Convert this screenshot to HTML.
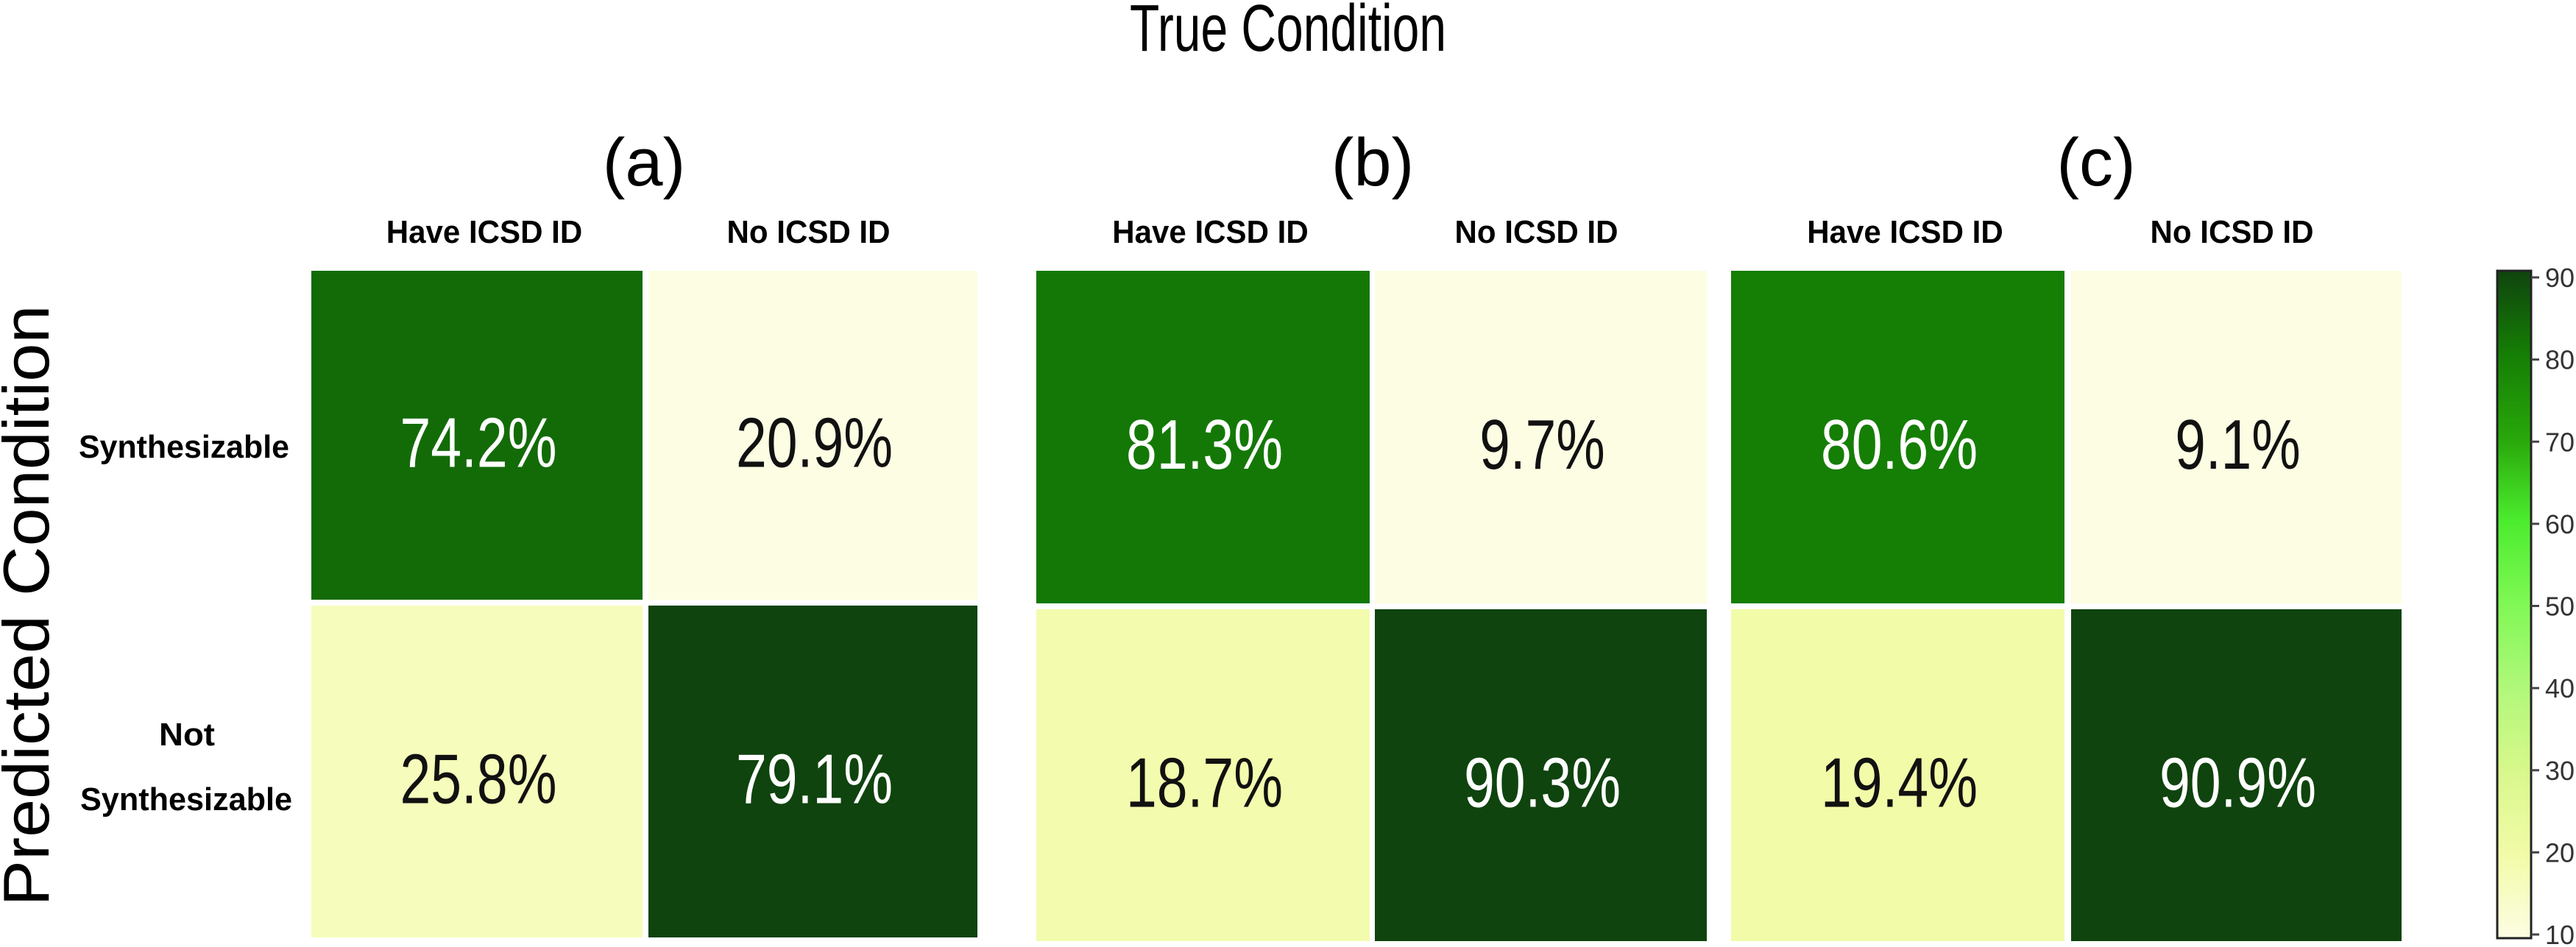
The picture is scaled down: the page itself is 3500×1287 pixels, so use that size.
<!DOCTYPE html>
<html><head><meta charset="utf-8"><style>html,body{margin:0;padding:0;background:#fff}svg{display:block}</style></head>
<body>
<svg id="chart" xmlns="http://www.w3.org/2000/svg" width="3500" height="1287" viewBox="0 0 3500 1287" font-family="Liberation Sans, sans-serif">
<defs>
<linearGradient id="cbgrad" x1="0" y1="1" x2="0" y2="0">
<stop offset="0" stop-color="#fdfde3"/><stop offset="0.125" stop-color="#f2fba8"/><stop offset="0.25" stop-color="#d8f88c"/><stop offset="0.375" stop-color="#b0f87a"/><stop offset="0.5" stop-color="#80f855"/><stop offset="0.625" stop-color="#4cec2e"/><stop offset="0.75" stop-color="#28a60a"/><stop offset="0.875" stop-color="#157e05"/><stop offset="1" stop-color="#0f440e"/>
</linearGradient>
</defs>
<text x="1750" y="69" font-size="90" text-anchor="middle" textLength="430" lengthAdjust="spacingAndGlyphs" fill="#000">True Condition</text>
<text transform="translate(66,823) rotate(-90)" font-size="88" text-anchor="middle" textLength="817" lengthAdjust="spacingAndGlyphs" fill="#000">Predicted Condition</text>
<text x="250" y="622" font-size="44" font-weight="bold" text-anchor="middle" textLength="286" lengthAdjust="spacingAndGlyphs">Synthesizable</text>
<text x="254" y="1013" font-size="44" font-weight="bold" text-anchor="middle" textLength="76" lengthAdjust="spacingAndGlyphs">Not</text>
<text x="253" y="1101" font-size="44" font-weight="bold" text-anchor="middle" textLength="288" lengthAdjust="spacingAndGlyphs">Synthesizable</text>
<g id="panels"></g>
<g id="colorbar"></g>
</svg>
<script>
const panelLabels = ["(a)", "(b)", "(c)"];
const colCategories = ["Have ICSD ID", "No ICSD ID"];
const rowCategories = ["Synthesizable", "Not Synthesizable"];
const panelA = [[74.2, 20.9], [25.8, 79.1]];
const panelB = [[81.3, 9.7], [18.7, 90.3]];
const panelC = [[80.6, 9.1], [19.4, 90.9]];
const colorbarTicks = [10, 20, 30, 40, 50, 60, 70, 80, 90];

const NS = "http://www.w3.org/2000/svg";
const panelsData = [panelA, panelB, panelC];
const layout = [
  {cols: [[423, 873], [881, 1328]], rows: [[368, 815], [823, 1274]], lab: 875},
  {cols: [[1408, 1861], [1868, 2319]], rows: [[368, 820], [828, 1279]], lab: 1865},
  {cols: [[2352, 2805], [2814, 3263]], rows: [[368, 820], [828, 1279]], lab: 2848}
];
const stops = [[10,"#fdfde3"],[20,"#f2fba8"],[30,"#d8f88c"],[40,"#b0f87a"],[50,"#80f855"],[60,"#4cec2e"],[70,"#28a60a"],[80,"#157e05"],[90,"#0f440e"]];
function hex(c){return [1,3,5].map(i=>parseInt(c.substr(i,2),16));}
function cmap(v){
  v=Math.max(10,Math.min(90,v));
  for(let i=0;i<stops.length-1;i++){
    if(v<=stops[i+1][0]){
      const t=(v-stops[i][0])/(stops[i+1][0]-stops[i][0]);
      const a=hex(stops[i][1]),b=hex(stops[i+1][1]);
      return "rgb("+a.map((x,k)=>Math.round(x+(b[k]-x)*t)).join(",")+")";
    }
  }
  return stops[stops.length-1][1];
}
function mk(tag, attrs){const e=document.createElementNS(NS,tag);for(const k in attrs)e.setAttribute(k,attrs[k]);return e;}
const g=document.getElementById("panels");
panelsData.forEach((data,p)=>{
  const L=layout[p];
  const flat=data.flat(); const mn=Math.min(...flat), mx=Math.max(...flat);
  const lab=mk("text",{x:L.lab,y:252,"font-size":92,"text-anchor":"middle"});
  
  
  lab.textContent=panelLabels[p]; g.appendChild(lab);
  colCategories.forEach((c,j)=>{
    const cx=(L.cols[j][0]+L.cols[j][1])/2+(j===0?10:-6);
    const t=mk("text",{x:cx,y:330,"font-size":44,"font-weight":"bold","text-anchor":"middle",textLength:c.length*22.2,lengthAdjust:"spacingAndGlyphs"});
    
    
    t.textContent=c; g.appendChild(t);
  });
  data.forEach((row,i)=>{
    row.forEach((v,j)=>{
      const x0=L.cols[j][0],x1=L.cols[j][1],y0=L.rows[i][0],y1=L.rows[i][1];
      const norm=10+80*(v-mn)/(mx-mn);
      const r=mk("rect",{x:x0,y:y0,width:x1-x0,height:y1-y0,fill:cmap(norm)});
      
      
      g.appendChild(r);
      const s=v.toFixed(1)+"%";
      const t=mk("text",{x:(x0+x1)/2+2,y:(y0+y1)/2+43,"font-size":96,"font-weight":"normal","text-anchor":"middle",fill:norm>60?"#ffffff":"#111111",textLength:s.length*42.6,lengthAdjust:"spacingAndGlyphs"});
      
      
      t.textContent=s; g.appendChild(t);
    });
  });
});
const cb=document.getElementById("colorbar");
const cbTop=368, cbBot=1275, cbX=3393, cbW=46;
const yScale=v=>1270-(v-10)/80*(1270-377);
const bar=mk("rect",{x:cbX,y:cbTop,width:cbW,height:cbBot-cbTop,fill:"url(#cbgrad)",stroke:"#222","stroke-width":3});


cb.appendChild(bar);
colorbarTicks.forEach(v=>{
  const y=yScale(v);
  const l=mk("line",{x1:cbX+cbW,x2:cbX+cbW+11,y1:y,y2:y,stroke:"#444","stroke-width":3});
  
  
  cb.appendChild(l);
  const t=mk("text",{x:3458,y:y+13,"font-size":36,fill:"#333"});
  
  
  t.textContent=v; cb.appendChild(t);
});
</script>
</body></html>
